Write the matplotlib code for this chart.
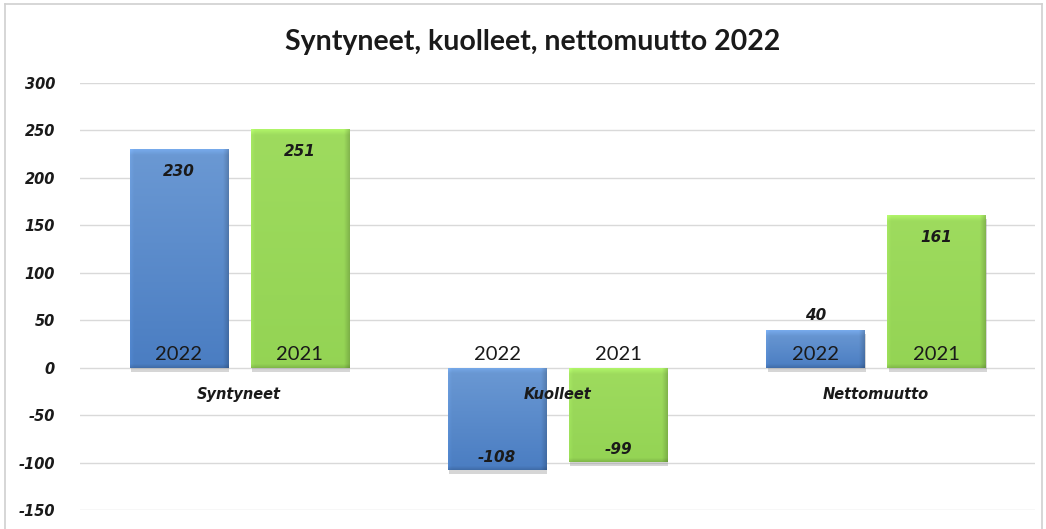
import numpy as np
import matplotlib
matplotlib.use("Agg")
import matplotlib.pyplot as plt
import matplotlib.patheffects as pe

categories = ["Syntyneet", "Kuolleet", "Nettomuutto"]
series_names = ["2022", "2021"]
values_2022 = [230, -108, 40]
values_2021 = [251, -99, 161]
yticks = [-150, -100, -50, 0, 50, 100, 150, 200, 250, 300]
title = "Syntyneet, kuolleet, nettomuutto 2022"

# (top colour, bottom colour) per series
grad_colors = {"2022": ((0.42, 0.60, 0.83), (0.29, 0.49, 0.76)),
               "2021": ((0.62, 0.86, 0.37), (0.58, 0.83, 0.33))}

fig = plt.figure(figsize=(10.46, 5.29), dpi=100)
ax = fig.add_axes([80/1046, 1-510/529, 955/1046, 427/529])

# figure border
for xs, ys in [([5/1046, 5/1046], [0, 1-4/529]),
               ([5/1046, 1-4/1046], [1-4/529, 1-4/529]),
               ([1-4/1046, 1-4/1046], [0, 1-4/529])]:
    fig.add_artist(plt.Line2D(xs, ys, transform=fig.transFigure, color="#d0d0d0", lw=1.2))

x = np.arange(len(categories))
width = 0.308
offsets = [-0.19, 0.19]
series = [values_2022, values_2021]

def gradient_img(top, bottom, hpx, wpx):
    h = max(int(hpx), 4); w = max(int(wpx), 4)
    ypx = np.arange(h)[:, None] + 0.5
    xpx = np.arange(w)[None, :] + 0.5
    t = ypx / h
    top = np.array(top); bottom = np.array(bottom)
    img = top[None, None, :] * (1 - t[:, :, None]) + bottom[None, None, :] * t[:, :, None]
    img = np.broadcast_to(img, (h, w, 3)).copy()
    bev = 6.0
    s = np.ones((h, w))
    s = np.where(ypx < bev, s * (1.12 - 0.12 * ypx / bev), s)
    s = np.where(xpx < bev * 0.7, s * (1.06 - 0.06 * xpx / (bev * 0.7)), s)
    rx = w - xpx
    s = np.where(rx < bev, s * (0.82 + 0.18 * rx / bev), s)
    by = h - ypx
    s = np.where(by < bev * 0.7, s * (0.86 + 0.14 * by / (bev * 0.7)), s)
    return np.clip(img * s[:, :, None], 0, 1)

px_x = 955 / 3.0
px_y = 427 / 450.0

for si, (name, vals) in enumerate(zip(series_names, series)):
    bars = ax.bar(x + offsets[si], vals, width, color=grad_colors[name][1], zorder=2,
                  edgecolor="none",
                  path_effects=[pe.SimplePatchShadow(offset=(1.0, -3.0), shadow_rgbFace="#8a8a8a", alpha=0.35), pe.Normal()])
    for b, v in zip(bars, vals):
        x0 = b.get_x(); w = b.get_width()
        y0, y1 = (0, v) if v >= 0 else (v, 0)
        img = gradient_img(grad_colors[name][0], grad_colors[name][1], abs(v) * px_y, w * px_x)
        im = ax.imshow(img, extent=[x0, x0 + w, y0, y1], aspect="auto", zorder=3,
                       origin="upper", interpolation="bilinear")
        im.set_clip_path(b)
        xc = x0 + w / 2
        ax.annotate(name, (xc, 0), xytext=(0, 3.5), textcoords="offset points",
                    ha="center", va="bottom", fontsize=14.5, family="Lato", color="#1a1a1a", zorder=5)
        if v >= 0:
            dy = -16 if v > 100 else 10
        else:
            dy = 9
        ax.annotate(f"{v}", (xc, v), xytext=(0, dy), textcoords="offset points",
                    ha="center", va="center", fontsize=11, fontweight="bold", fontstyle="italic",
                    family="DejaVu Sans", color="#1a1a1a", zorder=5)

for i, c in enumerate(categories):
    ax.annotate(c, (x[i], 0), xytext=(0, -19.5), textcoords="offset points",
                ha="center", va="center", fontsize=10.5, fontweight="bold", fontstyle="italic",
                family="DejaVu Sans", color="#1a1a1a", zorder=6)

ax.set_xlim(-0.5, 2.5)
ax.set_ylim(-150, 300)
ax.set_yticks(yticks)
ax.set_yticklabels([str(t) for t in yticks], fontsize=10.5, fontweight="bold", fontstyle="italic",
                   family="DejaVu Sans", color="#1a1a1a")
ax.set_xticks([])
ax.tick_params(axis="y", length=0, pad=18)
ax.grid(axis="y", color="#d9d9d9", lw=1.0, zorder=0)
ax.set_axisbelow(True)
for s in ax.spines.values():
    s.set_visible(False)

fig.text(0.509, 1 - 42/529, title, ha="center", va="center", fontsize=20.5, fontweight="bold",
         family="Lato", color="#1a1a1a")

fig.savefig("out.png", dpi=100)
